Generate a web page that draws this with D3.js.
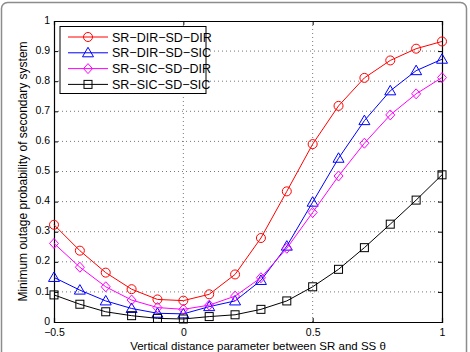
<!DOCTYPE html>
<html lang="en">
<head>
  <meta charset="utf-8">
  <title>Minimum outage probability</title>
  <style>
    body { margin: 0; background: #fff; }
    text { font-family: "Liberation Sans", Arial, sans-serif; }
  </style>
</head>
<body>
  <div id="chart-area"></div>
  <script src="https://cdn.jsdelivr.net/npm/d3@7/dist/d3.min.js"></script>
  <script>
    // data
    var thetas = [-0.5, -0.4, -0.3, -0.2, -0.1, 0, 0.1, 0.2, 0.3, 0.4, 0.5, 0.6, 0.7, 0.8, 0.9, 1.0];
    var dirDir = [0.323, 0.237, 0.164, 0.109, 0.075, 0.071, 0.092, 0.158, 0.279, 0.434, 0.591, 0.718, 0.811, 0.869, 0.908, 0.932];
    var dirSic = [0.148, 0.106, 0.070, 0.045, 0.029, 0.027, 0.051, 0.070, 0.138, 0.252, 0.398, 0.544, 0.669, 0.768, 0.835, 0.873];
    var sicDir = [0.261, 0.182, 0.117, 0.073, 0.048, 0.042, 0.056, 0.086, 0.147, 0.245, 0.364, 0.485, 0.594, 0.688, 0.758, 0.812];
    var sicSic = [0.090, 0.059, 0.034, 0.021, 0.012, 0.010, 0.018, 0.024, 0.042, 0.070, 0.117, 0.175, 0.247, 0.325, 0.405, 0.489];
    var seriesNames = ["SR\u2212DIR\u2212SD\u2212DIR", "SR\u2212DIR\u2212SD\u2212SIC", "SR\u2212SIC\u2212SD\u2212DIR", "SR\u2212SIC\u2212SD\u2212SIC"];
    var xTicks = [-0.5, 0, 0.5, 1];
    var yTicks = [0, 0.1, 0.2, 0.3, 0.4, 0.5, 0.6, 0.7, 0.8, 0.9, 1];

    var series = [
      { name: seriesNames[0], values: dirDir, color: "#ff0000", marker: "circle" },
      { name: seriesNames[1], values: dirSic, color: "#0000ff", marker: "triangle" },
      { name: seriesNames[2], values: sicDir, color: "#ff00ff", marker: "diamond" },
      { name: seriesNames[3], values: sicSic, color: "#000000", marker: "square" }
    ];

    var svgWidth = 470;
    var svgHeight = 352;
    var margin = { top: 21, left: 54, bottom: 30, right: 28 };
    var width = svgWidth - margin.left - margin.right;
    var height = svgHeight - margin.top - margin.bottom;

    var svg = d3.select("#chart-area")
                .append("svg")
                .attr("width", svgWidth)
                .attr("height", svgHeight);

    // outer figure frame
    svg.append("rect")
       .attr("x", 1.5).attr("y", 2.5)
       .attr("width", 465).attr("height", 362)
       .attr("rx", 6)
       .attr("fill", "none")
       .attr("stroke", "#8c8c8c")
       .attr("stroke-width", 1.5);

    var g = svg.append("g")
               .attr("transform", "translate(" + margin.left + "," + margin.top + ")");

    var x = d3.scaleLinear().domain([-0.5, 1]).range([0, width]);
    var y = d3.scaleLinear().domain([0, 1]).range([height, 0]);

    // dotted grid
    g.append("g").selectAll("line")
     .data(xTicks.slice(1, -1))
     .enter().append("line")
     .attr("x1", d => x(d)).attr("x2", d => x(d))
     .attr("y1", 0).attr("y2", height)
     .attr("stroke", "#555").attr("stroke-width", 0.8)
     .attr("stroke-dasharray", "1,3");
    g.append("g").selectAll("line")
     .data(yTicks.slice(1, -1))
     .enter().append("line")
     .attr("y1", d => y(d)).attr("y2", d => y(d))
     .attr("x1", 0).attr("x2", width)
     .attr("stroke", "#555").attr("stroke-width", 0.8)
     .attr("stroke-dasharray", "1,3");

    // axes with inward ticks on all sides
    function fmt(d) { return d < 0 ? "\u2212" + Math.abs(d) : String(d); }
    var xAxis = g.append("g")
                 .attr("transform", "translate(0," + height + ")")
                 .call(d3.axisBottom(x).tickValues(xTicks).tickSize(-4).tickPadding(6.5).tickFormat(fmt));
    var yAxis = g.append("g")
                 .call(d3.axisLeft(y).tickValues(yTicks).tickSize(-4).tickPadding(4).tickFormat(d => d));
    yAxis.selectAll(".tick text").attr("dy", "0.2em");
    g.append("g")
     .call(d3.axisTop(x).tickValues(xTicks).tickSize(-4).tickFormat(""));
    g.append("g")
     .attr("transform", "translate(" + width + ",0)")
     .call(d3.axisRight(y).tickValues(yTicks).tickSize(-4).tickFormat(""));
    g.selectAll(".domain").attr("stroke", "#000").attr("stroke-width", 1.2);
    g.selectAll(".tick text").attr("font-size", 10.5).attr("fill", "#000")
     .attr("font-family", "'Liberation Sans', Arial, sans-serif");

    // lines and markers
    var line = d3.line()
                 .x((d, i) => x(thetas[i]))
                 .y(d => y(d));

    function drawMarker(sel, type, color, cx, cy) {
      if (type === "circle") {
        sel.append("circle").attr("cx", cx).attr("cy", cy).attr("r", 4.5)
           .attr("fill", "none").attr("stroke", color);
      } else if (type === "triangle") {
        sel.append("path")
           .attr("d", "M" + cx + "," + (cy - 5.5) + "L" + (cx + 5.5) + "," + (cy + 4) + "L" + (cx - 5.5) + "," + (cy + 4) + "Z")
           .attr("fill", "none").attr("stroke", color);
      } else if (type === "diamond") {
        sel.append("path")
           .attr("d", "M" + cx + "," + (cy - 5) + "L" + (cx + 4.5) + "," + cy + "L" + cx + "," + (cy + 5) + "L" + (cx - 4.5) + "," + cy + "Z")
           .attr("fill", "none").attr("stroke", color);
      } else {
        sel.append("rect").attr("x", cx - 4).attr("y", cy - 4)
           .attr("width", 8).attr("height", 8)
           .attr("fill", "none").attr("stroke", color);
      }
    }

    series.forEach(function(s) {
      g.append("path")
       .datum(s.values)
       .attr("d", line)
       .attr("fill", "none")
       .attr("stroke", s.color)
       .attr("stroke-width", 1);
      var mg = g.append("g");
      s.values.forEach(function(v, i) {
        drawMarker(mg, s.marker, s.color, x(thetas[i]), y(v));
      });
    });

    // legend
    var legend = svg.append("g").attr("transform", "translate(60,26.5)");
    legend.append("rect")
          .attr("width", 146).attr("height", 67)
          .attr("fill", "#fff").attr("stroke", "#000").attr("stroke-width", 1);
    series.forEach(function(s, i) {
      var ly = 10.5 + i * 15.8;
      legend.append("line")
            .attr("x1", 8).attr("x2", 48).attr("y1", ly).attr("y2", ly)
            .attr("stroke", s.color);
      drawMarker(legend, s.marker, s.color, 28, ly);
      legend.append("text")
            .attr("x", 52).attr("y", ly + 4.5)
            .attr("font-size", 12.5)
            .text(s.name);
    });

    // axis titles
    svg.append("text")
       .attr("x", 258)
       .attr("y", 350)
       .attr("text-anchor", "middle")
       .attr("font-size", 11.5)
       .text("Vertical distance parameter between SR and SS \u03b8");
    svg.append("text")
       .attr("transform", "translate(27," + (margin.top + height / 2) + ") rotate(-90)")
       .attr("text-anchor", "middle")
       .attr("font-size", 12)
       .text("Minimum outage probability of secondary system");
  </script>
</body>
</html>
